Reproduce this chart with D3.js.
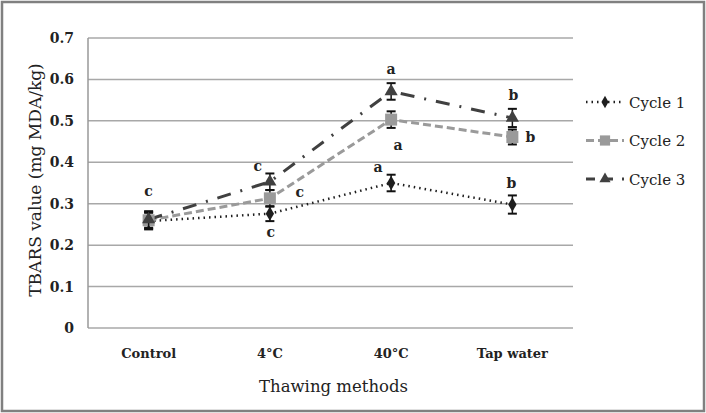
<!DOCTYPE html>
<html><head><meta charset="utf-8">
<script src="https://cdn.jsdelivr.net/npm/d3@7"></script>
<style>body{margin:0;background:#fff}svg{display:block}</style>
</head><body><svg id="c" width="706" height="413"></svg>
<script>
const categories = ["Control", "4°C", "40°C", "Tap water"];
const seriesNames = ["Cycle 1", "Cycle 2", "Cycle 3"];
const cycle1 = [0.258, 0.276, 0.350, 0.298];
const cycle2 = [0.260, 0.313, 0.503, 0.461];
const cycle3 = [0.262, 0.353, 0.571, 0.507];
const err1 = [0.020, 0.018, 0.020, 0.022];
const err2 = [0.020, 0.020, 0.020, 0.018];
const err3 = [0.020, 0.020, 0.020, 0.022];
const yTicks = [0, 0.1, 0.2, 0.3, 0.4, 0.5, 0.6, 0.7];
// letter annotations: [series index, category index, letter]
const letters = [
  [0,0,"c"],[1,1,"c"],[0,1,"c"],[2,1,"c"],
  [2,2,"a"],[1,2,"a"],[0,2,"a"],
  [2,3,"b"],[1,3,"b"],[0,3,"b"]
];

const FONT = '"DejaVu Serif", "Liberation Serif", serif';
const svg = d3.select("#c");
const W = 706, H = 413;
const m = {l: 88, r: 573, t: 38, b: 328};

svg.append("rect").attr("x",2).attr("y",2).attr("width",W-4).attr("height",H-4)
  .attr("fill","#fff").attr("stroke","#808080").attr("stroke-width",2.5);

const x = d3.scaleBand().domain(categories).range([m.l, m.r]);
const y = d3.scaleLinear().domain([0, 0.7]).range([m.b, m.t]);

// gridlines
svg.append("g").selectAll("line").data(yTicks).join("line")
  .attr("x1", m.l).attr("x2", m.r)
  .attr("y1", d => y(d)).attr("y2", d => y(d))
  .attr("stroke", "#a8a8a8").attr("stroke-width", 1.5);
svg.append("line").attr("x1", m.l).attr("x2", m.l).attr("y1", y(0.7)).attr("y2", y(0))
  .attr("stroke","#999").attr("stroke-width",1.5);

// y axis labels
const yAxis = d3.axisLeft(y).tickValues(yTicks).tickSize(0).tickPadding(14)
  .tickFormat(d => d === 0 ? "0" : d3.format(".1f")(d));
const ya = svg.append("g").attr("transform", `translate(${m.l},0)`).call(yAxis);
ya.select(".domain").remove();
ya.selectAll("text").attr("font-size", 14).attr("font-weight", "bold")
  .style("font-family", FONT).attr("fill","#222");

// x axis labels
const xAxis = d3.axisBottom(x).tickSize(0).tickPadding(21);
const xa = svg.append("g").attr("transform", `translate(0,${m.b})`).call(xAxis);
xa.select(".domain").remove();
xa.selectAll("text").attr("font-size", 13).attr("font-weight", "bold")
  .style("font-family", FONT).attr("fill","#222");

// axis titles
svg.append("text").attr("x", (m.l+m.r)/2 + 3).attr("y", 392).attr("text-anchor","middle")
  .style("font-family", FONT).attr("font-size", 16.5).attr("fill","#222").text("Thawing methods");
svg.append("text").attr("transform", `translate(41,${(m.t+m.b)/2 - 3}) rotate(-90)`)
  .attr("text-anchor","middle").style("font-family", FONT).attr("font-size", 17).attr("fill","#222")
  .text("TBARS value (mg MDA/kg)");

const series = [
  {name: seriesNames[0], values: cycle1, err: err1, color: "#1e1e1e", dash: "1.5,4", width: 2.5, marker: "diamond"},
  {name: seriesNames[1], values: cycle2, err: err2, color: "#9a9a9a", dash: "8,4", width: 3, marker: "square"},
  {name: seriesNames[2], values: cycle3, err: err3, color: "#404040", dash: "14,10,2,10", width: 3, marker: "triangle"}
];
const cx = c => x(c) + x.bandwidth()/2;
const line = d3.line().x(d => cx(d.c)).y(d => y(d.v));

function drawMarker(g, type, px, py, color, k) {
  k = k || 1;
  if (type === "diamond") {
    g.append("path").attr("d", d3.symbol(d3.symbolDiamond, 60*k*k)()).attr("transform", `translate(${px},${py})`).attr("fill", color);
  } else if (type === "square") {
    g.append("rect").attr("x", px-6*k).attr("y", py-6*k).attr("width", 12*k).attr("height", 12*k).attr("fill", color);
  } else {
    g.append("path").attr("d", d3.symbol(d3.symbolTriangle, 75*k*k)()).attr("transform", `translate(${px},${py})`).attr("fill", color);
  }
}

series.forEach(s => {
  const pts = s.values.map((v, i) => ({c: categories[i], v}));
  svg.append("path").datum(pts).attr("d", line).attr("fill","none")
    .attr("stroke", s.color).attr("stroke-width", s.width).attr("stroke-dasharray", s.dash);
});
series.forEach(s => {
  const g = svg.append("g");
  s.values.forEach((v, i) => {
    const px = cx(categories[i]);
    const e = s.err[i];
    g.append("line").attr("x1",px).attr("x2",px).attr("y1",y(v+e)).attr("y2",y(v-e)).attr("stroke","#111").attr("stroke-width",1.5);
    [v+e, v-e].forEach(t => g.append("line").attr("x1",px-4.5).attr("x2",px+4.5).attr("y1",y(t)).attr("y2",y(t)).attr("stroke","#111").attr("stroke-width",2));
    drawMarker(g, s.marker, px, y(v), s.color);
  });
});

// letters: offset relative to the point (dx, dy in px)
const letterOffsets = {
  "0,0": [0, -30], "1,1": [30, -6], "0,1": [1, 18], "2,1": [-12, -16],
  "2,2": [0, -22], "1,2": [7, 25], "0,2": [-13, -16],
  "2,3": [1, -23], "1,3": [18, 0], "0,3": [-1, -22]
};
const allVals = [cycle1, cycle2, cycle3];
svg.append("g").selectAll("text").data(letters).join("text")
  .attr("x", d => cx(categories[d[1]]) + letterOffsets[d[0]+","+d[1]][0])
  .attr("y", d => y(allVals[d[0]][d[1]]) + letterOffsets[d[0]+","+d[1]][1] + 5)
  .attr("text-anchor","middle").style("font-family", FONT).attr("font-size", 14).attr("font-weight", "bold")
  .attr("fill","#222").text(d => d[2]);

// legend
const lg = svg.append("g");
series.forEach((s, i) => {
  const ly = 102 + i * 38.5;
  lg.append("line").attr("x1", 586).attr("x2", 624).attr("y1", ly).attr("y2", ly)
    .attr("stroke", s.color).attr("stroke-width", s.width)
    .attr("stroke-dasharray", i === 2 ? "9,9" : s.dash);
  const g = lg.append("g");
  drawMarker(g, s.marker, 605, ly, s.color, 0.85);
  lg.append("text").attr("x", 629).attr("y", ly + 5.5).style("font-family", FONT)
    .attr("font-size", 15).attr("fill","#222").text(s.name);
});
</script></body></html>
